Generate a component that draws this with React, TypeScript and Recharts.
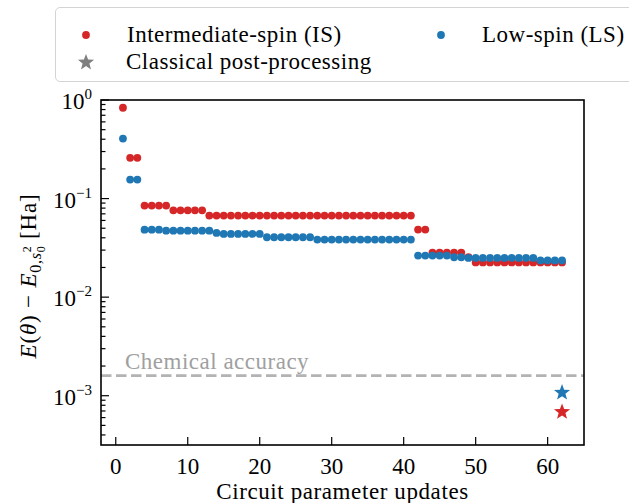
import { ScatterChart, Scatter, XAxis, YAxis, ReferenceLine } from 'recharts';

// circuit parameter update index (x)
const updates = [
  1, 2, 3, 4, 5, 6, 7, 8, 9, 10, 11, 12, 13, 14, 15, 16, 17, 18, 19, 20, 21,
  22, 23, 24, 25, 26, 27, 28, 29, 30, 31, 32, 33, 34, 35, 36, 37, 38, 39, 40,
  41, 42, 43, 44, 45, 46, 47, 48, 49, 50, 51, 52, 53, 54, 55, 56, 57, 58, 59,
  60, 61, 62,
];

// Intermediate-spin energy error [Ha]
const isError = [
  0.834, 0.259, 0.259, 0.085, 0.085, 0.085, 0.085, 0.076, 0.076, 0.076, 0.076, 0.076,
  0.0672, 0.0672, 0.0672, 0.0672, 0.0672, 0.0672, 0.0672, 0.0672, 0.0672, 0.0672,
  0.0672, 0.0672, 0.0672, 0.0672, 0.0672, 0.0672, 0.0672, 0.0672, 0.0672, 0.0672,
  0.0672, 0.0672, 0.0672, 0.0672, 0.0672, 0.0672, 0.0672, 0.0672, 0.0672,
  0.0485, 0.0485,
  0.0283, 0.0283, 0.0283, 0.0283, 0.0283,
  0.0255,
  0.0225, 0.0225, 0.0225, 0.0225, 0.0225, 0.0225, 0.0225, 0.0225, 0.0225, 0.0225,
  0.0225, 0.0225, 0.0225,
];

// Low-spin energy error [Ha]
const lsError = [
  0.406, 0.156, 0.156, 0.0484, 0.0484, 0.0484,
  0.0472, 0.0472, 0.0472, 0.0472, 0.0472, 0.0472, 0.0472,
  0.0448, 0.0438, 0.0438, 0.0438, 0.0438, 0.0438, 0.0438,
  0.0405, 0.0405, 0.0405, 0.0405, 0.0405, 0.0405, 0.0405,
  0.0384, 0.0384, 0.0384, 0.0384, 0.0384, 0.0384, 0.0384, 0.0384, 0.0384, 0.0384,
  0.0384, 0.0384, 0.0384, 0.0384,
  0.0264, 0.0264, 0.0264, 0.0264, 0.0264,
  0.0254, 0.0254,
  0.025, 0.025, 0.025, 0.025, 0.025, 0.025, 0.025, 0.025, 0.025, 0.025,
  0.0236, 0.0236, 0.0236, 0.0236,
];

// classical post-processing result
const postUpdate = [62];
const postIS = [0.000685];
const postLS = [0.001075];

const chemicalAccuracy = 0.0016;

const xTicks = [0, 10, 20, 30, 40, 50, 60];
const yMinorMult = [2, 3, 4, 5, 6, 7, 8, 9];

const RED = '#d62728';
const BLUE = '#1f77b4';
const GRAY = '#7f7f7f';
const FONT = '"Liberation Serif", "DejaVu Serif", serif';

const isData = updates.map((u, i) => ({ x: u, y: isError[i] }));
const lsData = updates.map((u, i) => ({ x: u, y: lsError[i] }));
const starIS = postUpdate.map((u, i) => ({ x: u, y: postIS[i] }));
const starLS = postUpdate.map((u, i) => ({ x: u, y: postLS[i] }));

const yTicks: number[] = [];
[0.0001, 0.001, 0.01, 0.1].forEach((d) => {
  yTicks.push(d);
  yMinorMult.forEach((m) => yTicks.push(+(d * m).toPrecision(3)));
});
yTicks.push(1);
const yMin = Math.pow(10, -3.5);
const yTicksInRange = yTicks.filter((t) => t >= yMin && t <= 1);

const Dot = (props: any) => <circle cx={props.cx} cy={props.cy} r={3.9} fill={props.fill} />;

const starPath = (cx: number, cy: number, r: number) => {
  const pts: string[] = [];
  for (let k = 0; k < 10; k++) {
    const rad = k % 2 === 0 ? r : r * 0.42;
    const a = -Math.PI / 2 + (k * Math.PI) / 5;
    pts.push(`${(cx + rad * Math.cos(a)).toFixed(2)},${(cy + rad * Math.sin(a)).toFixed(2)}`);
  }
  return `M${pts.join('L')}Z`;
};

const Star = (props: any) => <path d={starPath(props.cx, props.cy, 8.5)} fill={props.fill} />;

const YTick = ({ x, y, payload }: any) => {
  const lg = Math.log10(payload.value);
  const exp = Math.round(lg);
  const major = Math.abs(lg - exp) < 1e-6;
  return (
    <g>
      <line x1={x} x2={x + (major ? 8 : 4.5)} y1={y} y2={y} stroke="#000" strokeWidth={1.2} />
      {major && (
        <text x={x - 9} y={y + 9} textAnchor="end" fontSize={23} fill="#000" fontFamily={FONT}>
          10
          <tspan dy={-10} fontSize={15}>
            {exp === 0 ? '0' : `\u2212${Math.abs(exp)}`}
          </tspan>
        </text>
      )}
    </g>
  );
};

const XTick = ({ x, y, payload }: any) => (
  <g>
    <line x1={x} x2={x} y1={y} y2={y - 8} stroke="#000" strokeWidth={1.2} />
    <text x={x} y={y + 29} textAnchor="middle" fontSize={23} fill="#000" fontFamily={FONT}>
      {payload.value}
    </text>
  </g>
);

const AccuracyLabel = (props: any) => {
  const vb = props.viewBox || {};
  return (
    <text
      x={vb.x + 24}
      y={vb.y - 7}
      fontSize={23}
      fill="#a0a0a0"
      fontFamily={FONT}
      style={{ letterSpacing: '0.5px' }}
    >
      Chemical accuracy
    </text>
  );
};

const LegendEntry = ({ left, top, marker, label }: any) => (
  <div style={{ position: 'absolute', left, top, display: 'flex', alignItems: 'center' }}>
    <div style={{ width: 49, display: 'flex', justifyContent: 'flex-start' }}>{marker}</div>
    <span style={{ fontSize: 23, letterSpacing: '0.5px', whiteSpace: 'nowrap' }}>{label}</span>
  </div>
);

const legendDot = (color: string) => (
  <svg width={16} height={16}>
    <circle cx={8} cy={8} r={3.9} fill={color} />
  </svg>
);

const legendStar = (
  <svg width={18} height={18}>
    <path d={starPath(9, 9.5, 8.5)} fill={GRAY} />
  </svg>
);

export default function App() {
  return (
    <div
      style={{
        position: 'absolute',
        left: 0,
        top: 0,
        width: 629,
        height: 503,
        overflow: 'hidden',
        background: '#fff',
        fontFamily: FONT,
      }}
    >
      <ScatterChart width={629} height={503} margin={{ top: 100, right: 45, bottom: 28, left: 41 }}>
        <XAxis
          type="number"
          dataKey="x"
          domain={[-2.05, 65.05]}
          ticks={xTicks}
          interval={0}
          allowDataOverflow
          height={30}
          axisLine={false}
          tickLine={false}
          tickSize={0}
          tickMargin={0}
          tick={<XTick />}
        />
        <YAxis
          type="number"
          dataKey="y"
          scale="log"
          domain={[yMin, 1]}
          ticks={yTicksInRange}
          interval={0}
          allowDataOverflow
          width={60}
          axisLine={false}
          tickLine={false}
          tickSize={0}
          tickMargin={0}
          tick={<YTick />}
        />
        <ReferenceLine
          y={chemicalAccuracy}
          stroke="#b3b3b3"
          strokeWidth={2.8}
          strokeDasharray="10.5 4.5"
          label={<AccuracyLabel />}
        />
        <Scatter data={isData} fill={RED} shape={<Dot />} isAnimationActive={false} />
        <Scatter data={lsData} fill={BLUE} shape={<Dot />} isAnimationActive={false} />
        <Scatter data={starLS} fill={BLUE} shape={<Star />} isAnimationActive={false} />
        <Scatter data={starIS} fill={RED} shape={<Star />} isAnimationActive={false} />
      </ScatterChart>

      {/* frame + axis titles */}
      <svg
        width={629}
        height={503}
        style={{ position: 'absolute', left: 0, top: 0, pointerEvents: 'none' }}
      >
        <rect x={101} y={100} width={483} height={345} fill="none" stroke="#000" strokeWidth={1.6} />
        <text
          x={342.5}
          y={499}
          textAnchor="middle"
          fontSize={23}
          fontFamily={FONT}
          style={{ letterSpacing: '0.6px' }}
        >
          Circuit parameter updates
        </text>
        <text
          transform="translate(36,276) rotate(-90)"
          textAnchor="middle"
          fontSize={23}
          fontFamily={FONT}
          style={{ letterSpacing: '0.8px' }}
        >
          <tspan fontStyle="italic">E</tspan>(<tspan fontStyle="italic">θ</tspan>) {'\u2212'}{' '}
          <tspan fontStyle="italic">E</tspan>
          <tspan fontSize={16} dy={5}>
            0,
          </tspan>
          <tspan fontSize={16} fontStyle="italic">
            s
          </tspan>
          <tspan fontSize={12} dy={-10}>
            2
          </tspan>
          <tspan fontSize={12} dx={-7} dy={14}>
            0
          </tspan>
          <tspan fontSize={23} dy={-9}>
            {' '}[Ha]
          </tspan>
        </text>
      </svg>

      {/* legend */}
      <div
        style={{
          position: 'absolute',
          left: 55,
          top: 7,
          width: 620,
          height: 73,
          border: '1.5px solid #d4d4d4',
          borderRadius: 5,
          background: '#fff',
        }}
      >
        <LegendEntry left={22} top={14} marker={legendDot(RED)} label="Intermediate-spin (IS)" />
        <LegendEntry left={377} top={14} marker={legendDot(BLUE)} label="Low-spin (LS)" />
        <LegendEntry left={21} top={41} marker={legendStar} label="Classical post-processing" />
      </div>
    </div>
  );
}
